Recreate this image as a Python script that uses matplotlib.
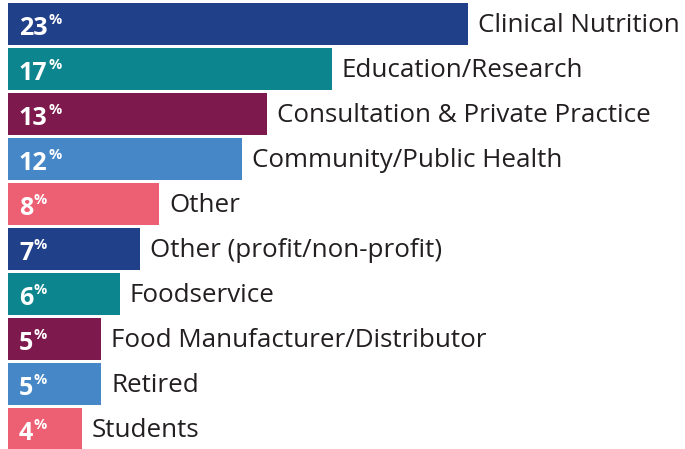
import matplotlib.pyplot as plt

# ---- data ----
categories = ['Clinical Nutrition', 'Education/Research', 'Consultation & Private Practice',
              'Community/Public Health', 'Other', 'Other (profit/non-profit)',
              'Foodservice', 'Food Manufacturer/Distributor', 'Retired', 'Students']
pct_labels = [23, 17, 13, 12, 8, 7, 6, 5, 5, 4]
# bar lengths as drawn (the artwork is not exactly proportional to the labels)
bar_values = [23, 16.2, 12.95, 11.7, 7.55, 6.6, 5.6, 4.65, 4.65, 3.7]
colors = ['#21408A', '#0D858F', '#7E194D', '#4687C8', '#ED5F73',
          '#21408A', '#0D858F', '#7E194D', '#4687C8', '#ED5F73']

plt.rcParams['font.family'] = ['Open Sans', 'DejaVu Sans']

fig = plt.figure(figsize=(6.85, 4.49), dpi=100)
ax = fig.add_axes([0, 0, 1, 1])

ypos = list(range(len(categories)))
ax.barh(ypos, bar_values, height=0.93, color=colors)

for y, v, p, name in zip(ypos, bar_values, pct_labels, categories):
    num = ax.text(0.55, y + 0.04, str(p), color='white', fontsize=18, fontweight='bold',
                  va='center_baseline', ha='left')
    # small raised percent sign right after the number
    ax.annotate('%', xy=(1, 0), xycoords=num, xytext=(0.5, 12.5), textcoords='offset points',
                color='white', fontsize=10.5, fontweight='bold', va='baseline', ha='left')
    ax.text(v + 0.5, y + 0.03, name, color='#231F20', fontsize=18.7, va='center', ha='left')

ax.set_xlim(-0.4, 33.85)
ax.set_ylim(9.44, -0.533)
ax.axis('off')

fig.savefig('out.png', dpi=100)
